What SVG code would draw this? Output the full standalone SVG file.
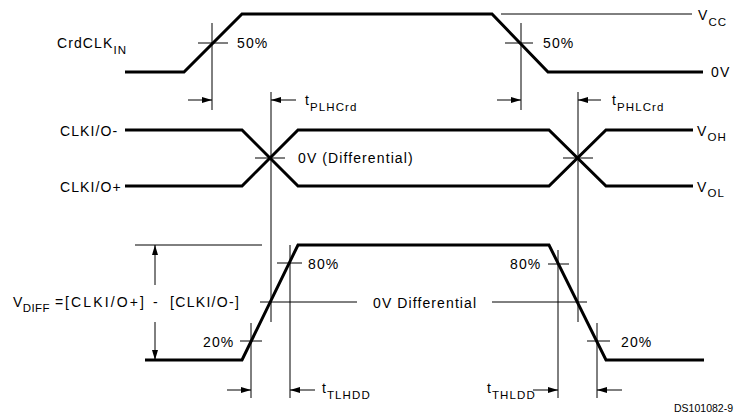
<svg xmlns="http://www.w3.org/2000/svg" width="735" height="417" viewBox="0 0 735 417">
<defs>
<style>
.wave{fill:none;stroke:#000;stroke-width:3;stroke-linejoin:miter}
.thin{fill:none;stroke:#000;stroke-width:1}
.ar{fill:none;stroke:#000;stroke-width:1;marker-end:url(#ah)}
text{font-family:"Liberation Sans",Arial,sans-serif;font-size:14px;fill:#000;letter-spacing:1.1px}
.sub{font-size:11.5px}
.id{font-size:10.5px;letter-spacing:0}
</style>
<marker id="ah" viewBox="0 0 10 6" refX="10" refY="3" markerWidth="10" markerHeight="6" markerUnits="userSpaceOnUse" orient="auto">
<path d="M0,0 L10,3 L0,6 Z" fill="#000"/>
</marker>
</defs>
<rect width="735" height="417" fill="#fff"/>
<g id="waveforms">
<path class="wave" d="M125,72 L184,72 L242,14 L492,14 L548,72 L703,72"/>
<path class="wave" d="M125,130 L242,130 L298,186 L549,186 L606,130 L693,130"/>
<path class="wave" d="M125,186 L242,186 L298,130 L549,130 L606,186 L693,186"/>
<path class="wave" d="M145,360 L242,360 L298,245 L549,245 L606,360 L704,360"/>
</g>
<g id="connectors">
<line class="thin" x1="501" y1="14" x2="692" y2="14"/>
<line class="thin" x1="212" y1="23" x2="212" y2="110"/>
<line class="thin" x1="198" y1="43" x2="228" y2="43"/>
<line class="thin" x1="521" y1="23" x2="521" y2="110"/>
<line class="thin" x1="505" y1="43" x2="533" y2="43"/>
<line class="ar" x1="188" y1="100" x2="212" y2="100"/>
<line class="ar" x1="497" y1="100" x2="521" y2="100"/>
<line class="thin" x1="271" y1="92" x2="271" y2="322"/>
<line class="thin" x1="578" y1="92" x2="578" y2="322"/>
<line class="ar" x1="296" y1="100" x2="271" y2="100"/>
<line class="ar" x1="601" y1="100" x2="578" y2="100"/>
<line class="thin" x1="255" y1="158" x2="285" y2="158"/>
<line class="thin" x1="563" y1="158" x2="593" y2="158"/>
<line class="thin" x1="135" y1="245" x2="262" y2="245"/>
<line class="ar" x1="155" y1="285" x2="155" y2="245"/>
<line class="ar" x1="155" y1="322" x2="155" y2="360"/>
<line class="thin" x1="260" y1="302" x2="357" y2="302"/>
<line class="thin" x1="492" y1="302" x2="587" y2="302"/>
<line class="thin" x1="290" y1="245" x2="290" y2="398"/>
<line class="thin" x1="277" y1="263" x2="302" y2="263"/>
<line class="thin" x1="251" y1="323" x2="251" y2="398"/>
<line class="thin" x1="240" y1="341" x2="262" y2="341"/>
<line class="thin" x1="558" y1="250" x2="558" y2="398"/>
<line class="thin" x1="548" y1="264" x2="569" y2="264"/>
<line class="thin" x1="597" y1="323" x2="597" y2="398"/>
<line class="thin" x1="587" y1="341" x2="610" y2="341"/>
<line class="ar" x1="227" y1="390" x2="251" y2="390"/>
<line class="ar" x1="315" y1="390" x2="290" y2="390"/>
<line class="ar" x1="533" y1="390" x2="558" y2="390"/>
<line class="ar" x1="622" y1="390" x2="597" y2="390"/>
</g>
<g id="labels">
<text x="57" y="48">CrdCLK<tspan class="sub" dy="6">IN</tspan></text>
<text x="237" y="48">50%</text>
<text x="543" y="48">50%</text>
<text x="698" y="20">V<tspan class="sub" dy="6">CC</tspan></text>
<text x="711" y="77">0V</text>
<text x="305" y="105">t<tspan class="sub" dy="6">PLHCrd</tspan></text>
<text x="612" y="105">t<tspan class="sub" dy="6">PHLCrd</tspan></text>
<text x="60" y="136">CLKI/O-</text>
<text x="60" y="192">CLKI/O+</text>
<text x="298" y="163">0V (Differential)</text>
<text x="697" y="136">V<tspan class="sub" dy="5">OH</tspan></text>
<text x="697" y="192">V<tspan class="sub" dy="5">OL</tspan></text>
<text x="13" y="307" style="letter-spacing:0.4px">V<tspan class="sub" dy="5">DIFF</tspan></text>
<text x="55" y="307">=</text>
<text x="65" y="307" textLength="80" lengthAdjust="spacing">[CLKI/O+]</text>
<text x="153" y="307">-</text>
<text x="170" y="307" textLength="70" lengthAdjust="spacing">[CLKI/O-]</text>
<text x="308" y="269">80%</text>
<text x="510" y="269">80%</text>
<text x="203" y="347">20%</text>
<text x="621" y="347">20%</text>
<text x="373" y="308">0V Differential</text>
<text x="322" y="393">t<tspan class="sub" dy="6">TLHDD</tspan></text>
<text x="487" y="393">t<tspan class="sub" dy="6">THLDD</tspan></text>
<text class="id" x="733" y="412" text-anchor="end">DS101082-9</text>
</g>
</svg>
